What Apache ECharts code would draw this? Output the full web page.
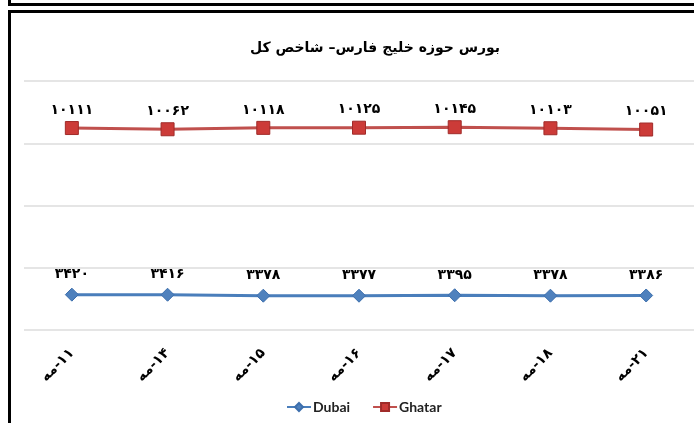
<!DOCTYPE html>
<html>
<head>
<meta charset="utf-8">
<script src="https://cdn.jsdelivr.net/npm/echarts@6/dist/echarts.min.js"></script>
<style>
html,body{margin:0;padding:0;background:#fff;}
#chart{width:694px;height:423px;}
</style>
</head>
<body>
<div id="chart"></div>
<script>
var categories = ['۱۱-مه','۱۴-مه','۱۵-مه','۱۶-مه','۱۷-مه','۱۸-مه','۲۱-مه'];
var dubai = [3420, 3416, 3378, 3377, 3395, 3378, 3386];
var ghatar = [10111, 10062, 10118, 10125, 10145, 10103, 10051];
var gridValues = [2000, 4500, 7000, 9500, 12000];
var yMin = 2000, yMax = 12000;

function toFa(n){ return String(n).replace(/\d/g, function(d){ return '۰۱۲۳۴۵۶۷۸۹'[d]; }); }

var chart = echarts.init(document.getElementById('chart'), null, {renderer:'canvas'});
var faFont = 'DejaVu Sans';
chart.setOption({
  animation:false,
  backgroundColor:'#ffffff',
  title:{
    text:'بورس حوزه خلیج فارس– شاخص کل',
    left:370, top:36, textAlign:'center',
    textStyle:{fontFamily:faFont, fontWeight:'bold', fontSize:14, color:'#000'}
  },
  graphic:[
    {type:'line', shape:{x1:9.5,y1:0,x2:9.5,y2:6}, style:{stroke:'#000',lineWidth:3}},
    {type:'line', shape:{x1:8,y1:4.5,x2:694,y2:4.5}, style:{stroke:'#000',lineWidth:3}},
    {type:'line', shape:{x1:9.5,y1:10,x2:9.5,y2:423}, style:{stroke:'#000',lineWidth:3}},
    {type:'line', shape:{x1:8,y1:11.5,x2:694,y2:11.5}, style:{stroke:'#000',lineWidth:3}}
  ],
  legend:{
    bottom:4, left:281,
    itemWidth:24, itemHeight:10, itemGap:22,
    textStyle:{fontFamily:'Lato', fontWeight:'bold', fontSize:14, color:'#222', padding:[0,0,0,-3]},
    data:['Dubai','Ghatar']
  },
  grid:{left:24, top:81, width:672, height:249, containLabel:false},
  xAxis:{
    type:'category', data:categories, boundaryGap:true,
    axisLine:{show:false}, axisTick:{show:false},
    axisLabel:{
      rotate:45, margin:21, interval:0,
      fontFamily:faFont, fontWeight:'bold', fontSize:14, color:'#000',
      formatter:function(v){ return '\u200F' + v; }
    }
  },
  yAxis:{
    type:'value', min:yMin, max:yMax,
    axisLine:{show:false}, axisTick:{show:false}, axisLabel:{show:false},
    splitLine:{show:false}
  },
  series:[
    {
      name:'Dubai', type:'line', data:dubai,
      symbol:'diamond', symbolSize:13,
      lineStyle:{color:'#4a7ebb', width:3},
      itemStyle:{color:'#4f81bd', borderColor:'#3d6fad', borderWidth:1},
      label:{show:true, position:'top', distance:6,
        fontFamily:faFont, fontWeight:'bold', fontSize:14, color:'#000',
        formatter:function(p){ return toFa(p.value); }},
      markLine:{
        silent:true, symbol:'none', animation:false,
        label:{show:false},
        lineStyle:{color:'#dcdcdc', width:1.5, type:'solid'},
        data:gridValues.map(function(v){ return {yAxis:v}; })
      },
      z:3
    },
    {
      name:'Ghatar', type:'line', data:ghatar,
      symbol:'rect', symbolSize:13,
      lineStyle:{color:'#c0504d', width:3},
      itemStyle:{color:'#cc3b38', borderColor:'#a02b29', borderWidth:1},
      label:{show:true, position:'top', distance:4,
        fontFamily:faFont, fontWeight:'bold', fontSize:14, color:'#000',
        formatter:function(p){ return toFa(p.value); }},
      z:3
    }
  ]
});
</script>
</body>
</html>
